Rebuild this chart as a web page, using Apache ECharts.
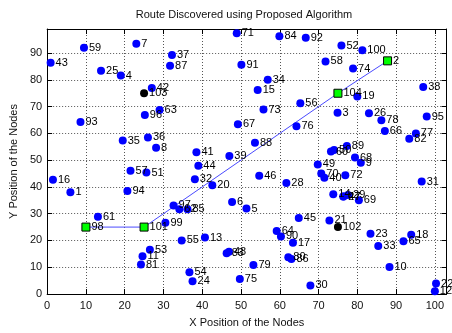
<!DOCTYPE html>
<html><head><meta charset="utf-8">
<script src="https://cdn.jsdelivr.net/npm/echarts@6/dist/echarts.min.js"></script>
<style>html,body{margin:0;padding:0;background:#fff}#c{width:452px;height:333px}</style>
</head><body><div id="c"></div>
<script>
// Regular sensor nodes: id, x, y
const nodeIds = [1,3,4,5,6,7,8,9,10,11,12,13,14,15,16,17,18,19,20,21,22,23,24,25,26,27,28,29,30,31,32,33,34,35,36,37,38,39,40,41,42,43,44,45,46,47,48,49,50,51,52,53,54,55,56,57,58,59,60,61,62,63,64,65,66,67,68,69,70,71,72,73,74,75,76,77,78,79,80,81,82,83,84,85,86,87,88,89,90,91,92,93,94,95,96,97,99,100];
const nodeX = [6,74.9,19,51.4,47.7,23,28.1,80.9,88.3,24.6,100,40.7,73.8,54.3,1.5,63.4,93.9,80,42.6,72.8,100.3,83.4,37.5,13.9,83,76.4,61.7,77.6,67.9,96.6,38.1,85.4,56.9,19.5,26,32.2,97,47,71.5,38.5,27,0.9,39,64.9,54.7,76.4,46.9,69.8,74,25.6,75.9,26.5,36.7,34.7,65.3,21.5,71.8,9.5,73.2,13.1,34.1,29,59.2,91.9,87.1,49.2,79.4,80.4,70.7,48.9,76.9,55.8,78.9,49.7,64.3,95.1,86.2,53.2,62.2,24.2,93.4,46.3,59.9,36.2,63,31.7,53.6,77.3,60.3,50.1,66.7,8.6,20.7,97.9,25.2,32.6,30.5,81.3];
const nodeY = [38,67.7,81.6,31.9,34.4,93.5,54.6,49,10.1,14.1,1,21.1,37.3,76.2,42.7,19.1,22.1,73.8,40.6,27.5,3.9,22.5,4.8,83.4,67.5,36.4,41.5,37,3.2,42,42.9,17.9,80,57.3,58.5,89.3,77.3,51.6,43.4,53,77,86.4,47.9,28.4,44.2,36.4,15.8,48.4,53.8,45.4,92.8,16.5,8.1,20,71.3,46,86.9,92,53.2,28.9,31.7,68.7,23.5,19.7,60.9,63.4,51,35,45,97.4,44.4,68.9,84.2,5.6,62.7,60,64.9,10.8,13.7,11,58,15.2,96.3,31.7,13.1,85.3,56.5,55.3,21.5,85.6,95.7,64.3,38.5,66.3,66.9,33.1,26.6,91.1];
// Fixed (black) nodes
const fixedIds = [103,102];
const fixedX = [25,75];
const fixedY = [75,25];
// Discovered route nodes (green), in route order
const routeIds = [98,101,104,2];
const routeX = [10,25,75,87.8];
const routeY = [25,25,75,87.1];
const xTicks = [0,10,20,30,40,50,60,70,80,90,100];
const yTicks = [0,10,20,30,40,50,60,70,80,90];

const font = 'Liberation Sans, Arial, Helvetica, sans-serif';
const mk = (ids, xs, ys) => ids.map((id, i) => [xs[i], ys[i], String(id)]);
const lbl = {show:true, position:'right', distance:1, formatter:p=>p.value[2], color:'#000', fontSize:11, fontFamily:font};

const chart = echarts.init(document.getElementById('c'), null, {renderer:'canvas'});
const baseX = {type:'value', min:0, max:103, interval:10};
const baseY = {type:'value', min:0, max:99, interval:10};
chart.setOption({
  animation:false,
  backgroundColor:'#fff',
  title:{text:'Route Discovered using Proposed Algorithm', left:239, textAlign:'center', top:4,
    textStyle:{fontSize:11, fontWeight:'normal', color:'#111', fontFamily:font}},
  grid:{left:43, right:5.5, top:29, bottom:28, containLabel:false},
  xAxis:[
    Object.assign({}, baseX, {position:'bottom', name:'X Position of the Nodes', nameLocation:'middle', nameGap:23,
      nameTextStyle:{fontSize:11, color:'#111', fontFamily:font},
      axisLine:{show:true, onZero:false, lineStyle:{color:'#000', width:1}},
      axisTick:{show:true, inside:true, length:5, lineStyle:{color:'#000'}, customValues:xTicks},
      axisLabel:{show:true, color:'#111', fontSize:11, fontFamily:font, margin:6, customValues:xTicks},
      splitLine:{show:true, lineStyle:{type:[1,2], color:'#555', width:1}}}),
    Object.assign({}, baseX, {position:'top',
      axisLine:{show:true, onZero:false, lineStyle:{color:'#000', width:1}},
      axisTick:{show:true, inside:true, length:5, lineStyle:{color:'#000'}, customValues:xTicks},
      axisLabel:{show:false}, splitLine:{show:false}})
  ],
  yAxis:[
    Object.assign({}, baseY, {position:'left', name:'Y Position of the Nodes', nameLocation:'middle', nameGap:26,
      nameTextStyle:{fontSize:11, color:'#111', fontFamily:font},
      axisLine:{show:true, onZero:false, lineStyle:{color:'#000', width:1}},
      axisTick:{show:true, inside:true, length:5, lineStyle:{color:'#000'}, customValues:yTicks},
      axisLabel:{show:true, color:'#111', fontSize:11, fontFamily:font, margin:5, customValues:yTicks},
      splitLine:{show:true, lineStyle:{type:[1,2], color:'#555', width:1}}}),
    Object.assign({}, baseY, {position:'right',
      axisLine:{show:true, onZero:false, lineStyle:{color:'#000', width:1}},
      axisTick:{show:true, inside:true, length:5, lineStyle:{color:'#000'}, customValues:yTicks},
      axisLabel:{show:false}, splitLine:{show:false}})
  ],
  series:[
    {type:'line', data:routeX.map((x,i)=>[x,routeY[i]]), showSymbol:false, symbol:'none',
      lineStyle:{color:'#4a4aff', width:1}, z:2, silent:true},
    {type:'scatter', data:mk(nodeIds,nodeX,nodeY), symbol:'circle', symbolSize:8,
      itemStyle:{color:'#0000ff', opacity:1}, label:lbl, z:3},
    {type:'scatter', data:mk(fixedIds,fixedX,fixedY), symbol:'circle', symbolSize:8,
      itemStyle:{color:'#000', opacity:1}, label:lbl, z:4},
    {type:'scatter', data:mk(routeIds,routeX,routeY), symbol:'rect', symbolSize:8,
      itemStyle:{color:'#00ff00', borderColor:'#000', borderWidth:1, opacity:1}, label:lbl, z:5}
  ]
});
</script></body></html>
